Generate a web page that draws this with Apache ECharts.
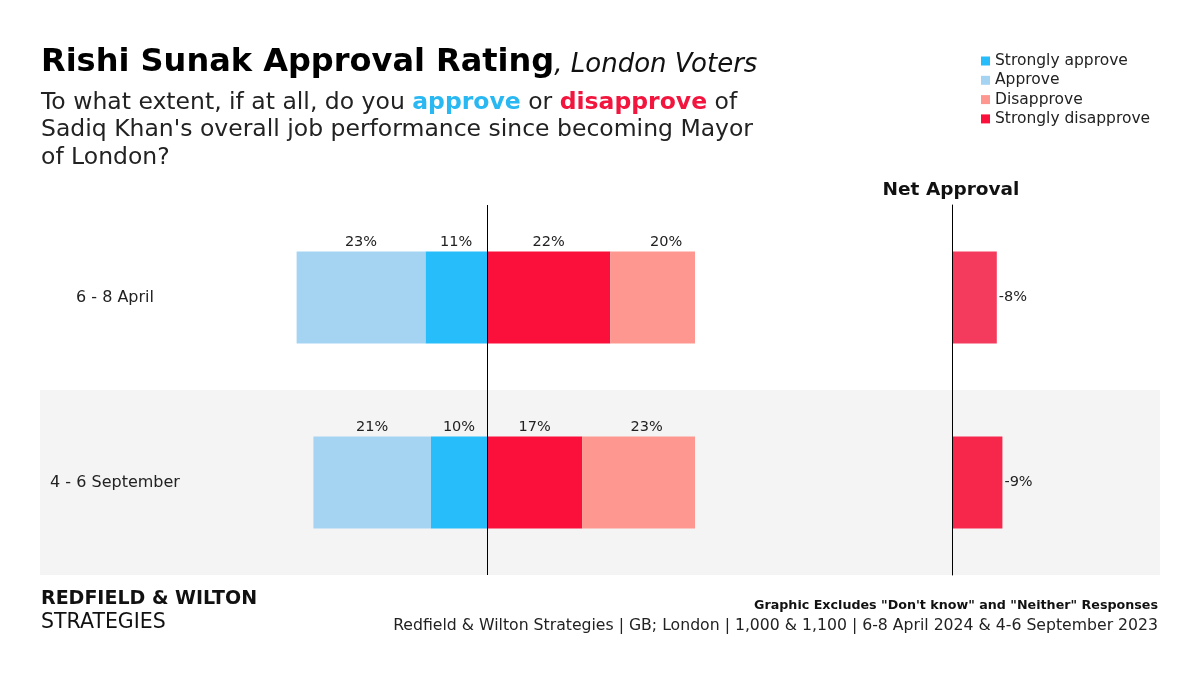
<!DOCTYPE html>
<html><head><meta charset="utf-8">
<script src="https://cdn.jsdelivr.net/npm/echarts@6/dist/echarts.min.js"></script>
<style>html,body{margin:0;padding:0;background:#fff}#c{width:1200px;height:675px}</style>
</head><body><div id="c"></div>
<script>
const categories = ['6 - 8 April', '4 - 6 September'];
const stronglyApprove = [11, 10];
const approve = [23, 21];
const disapprove = [20, 23];
const stronglyDisapprove = [22, 17];
const netApproval = [-8, -9];
const netColors = ['#F43B5E', '#F7274C'];

const FONT = '"DejaVu Sans", sans-serif';
const C_SA = '#27BCFA', C_A = '#A5D4F3', C_D = '#FE9790', C_SD = '#FA103B';
const lbl = v => Math.abs(v) + '%';

const chart = echarts.init(document.getElementById('c'));
const labelCommon = {show: true, position: 'top', distance: 2, color: '#222', fontSize: 14.5, fontFamily: FONT};

function bar(name, data, color, sign) {
  return {name, type: 'bar', stack: 'all', data: data.map(v => sign * v), barWidth: 92,
    itemStyle: {color}, xAxisIndex: 0, yAxisIndex: 0, clip: true, z: 2};
}
function labelBar(name, data, sign) {
  return {name, type: 'bar', stack: 'lab', data: data.map(v => sign * v), barWidth: 92,
    itemStyle: {color: 'rgba(0,0,0,0)'}, xAxisIndex: 2, yAxisIndex: 2, clip: false, z: 3,
    label: Object.assign({formatter: p => lbl(p.value)}, labelCommon), silent: true};
}

chart.setOption({
  backgroundColor: '#fff',
  animation: false,
  textStyle: {fontFamily: FONT},
  graphic: [
    {type: 'rect', shape: {x: 40, y: 390, width: 1120, height: 185}, style: {fill: '#F4F4F4'}, z: -10}
  ],
  title: [
    {left: 41, top: 47, padding: 0, text: '{a|Rishi Sunak Approval Rating}{b|, London Voters}',
      textStyle: {rich: {
        a: {fontSize: 32, fontWeight: 'bold', color: '#000', fontFamily: FONT},
        b: {fontSize: 26, fontStyle: 'italic', fontWeight: 'normal', color: '#111', fontFamily: FONT, padding: [5, 0, 0, 0]}
      }}},
    {left: 41, top: 89, padding: 0, text: 'To what extent, if at all, do you {ap|approve} or {dis|disapprove} of\nSadiq Khan\'s overall job performance since becoming Mayor\nof London?',
      textStyle: {fontSize: 23.5, fontWeight: 'normal', color: '#222', fontFamily: FONT, lineHeight: 27.5,
        rich: {ap: {fontSize: 23.5, color: '#29B8F2', fontWeight: 'bold', fontFamily: FONT, lineHeight: 27.5},
               dis: {fontSize: 23.5, color: '#F2163F', fontWeight: 'bold', fontFamily: FONT, lineHeight: 27.5}}}},
    {left: 951, top: 181, padding: 0, textAlign: 'center', text: 'Net Approval',
      textStyle: {fontSize: 18.5, fontWeight: 'bold', color: '#111', fontFamily: FONT}},
    {left: 41, top: 590, padding: 0, text: 'REDFIELD & WILTON', textStyle: {fontSize: 19, fontWeight: 'bold', color: '#111', fontFamily: FONT}},
    {left: 41, top: 612, padding: 0, text: 'STRATEGIES', textStyle: {fontSize: 20.5, fontWeight: 'normal', color: '#111', fontFamily: FONT}},
    {right: 42, top: 599, padding: 0, text: 'Graphic Excludes "Don\'t know" and "Neither" Responses', textStyle: {fontSize: 12.7, fontWeight: 'bold', color: '#111', fontFamily: FONT}},
    {right: 42, top: 618, padding: 0, text: 'Redfield & Wilton Strategies | GB; London | 1,000 & 1,100 | 6-8 April 2024 & 4-6 September 2023', textStyle: {fontSize: 15.7, fontWeight: 'normal', color: '#222', fontFamily: FONT}}
  ],
  legend: {
    orient: 'vertical', left: 981, top: 53, padding: 0, itemWidth: 9, itemHeight: 9, itemGap: 3.3, icon: 'rect',
    textStyle: {fontSize: 15.5, color: '#222', fontFamily: FONT},
    data: ['Strongly approve', 'Approve', 'Disapprove', 'Strongly disapprove'], selectedMode: false
  },
  grid: [
    {left: 263, width: 432, top: 205, height: 370},
    {left: 952, width: 208, top: 205, height: 370},
    {left: 263, width: 432, top: 205, height: 370}
  ],
  xAxis: [
    {gridIndex: 0, type: 'value', min: -40, max: 37.14, show: false},
    {gridIndex: 1, type: 'value', min: 0, max: 37.14, show: false},
    {gridIndex: 2, type: 'value', min: -40, max: 37.14, show: false}
  ],
  yAxis: [
    {gridIndex: 0, type: 'category', data: categories, inverse: true,
      axisLine: {show: false, onZero: false}, axisTick: {show: false},
      axisLabel: {align: 'center', margin: 148, fontSize: 16, color: '#222', fontFamily: FONT}},
    {gridIndex: 1, type: 'category', data: categories, inverse: true,
      axisLine: {show: true, onZero: false, lineStyle: {color: '#000', width: 1}}, axisTick: {show: false}, axisLabel: {show: false}, z: 10},
    {gridIndex: 2, type: 'category', data: categories, inverse: true, show: false,
      axisLine: {onZero: false}}
  ],
  series: [
    bar('Strongly approve', stronglyApprove, C_SA, -1),
    bar('Approve', approve, C_A, -1),
    bar('Strongly disapprove', stronglyDisapprove, C_SD, 1),
    bar('Disapprove', disapprove, C_D, 1),
    labelBar('lSA', stronglyApprove, -1),
    labelBar('lA', approve, -1),
    labelBar('lSD', stronglyDisapprove, 1),
    labelBar('lD', disapprove, 1),
    {name: 'Net', type: 'bar', xAxisIndex: 1, yAxisIndex: 1, barWidth: 92, z: 2,
      data: netApproval.map((v, i) => ({value: Math.abs(v), itemStyle: {color: netColors[i]}})),
      label: {show: true, position: 'right', distance: 2, color: '#222', fontSize: 14.5, fontFamily: FONT,
        formatter: p => netApproval[p.dataIndex] + '%'}},
    {name: 'zero', type: 'line', xAxisIndex: 0, yAxisIndex: 0, data: [], z: 10,
      markLine: {silent: true, symbol: 'none', label: {show: false}, lineStyle: {color: '#000', width: 1, type: 'solid'},
        data: [{xAxis: 0}]}}
  ]
});
</script></body></html>
